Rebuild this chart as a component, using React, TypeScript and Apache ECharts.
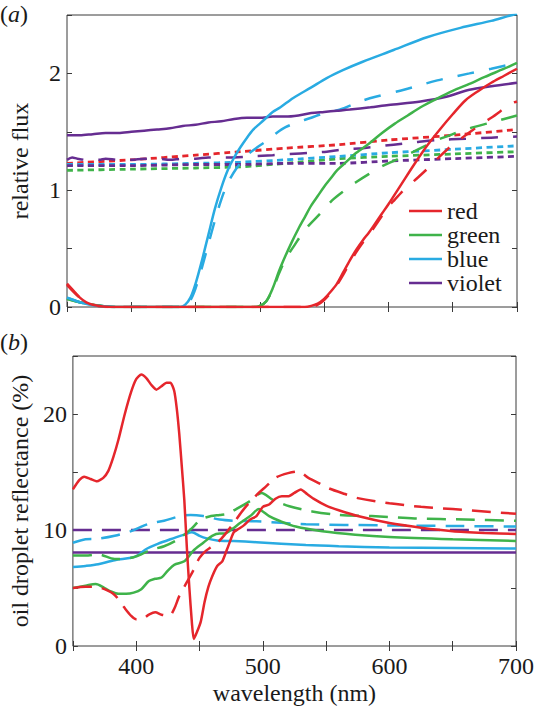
import React, { useEffect, useRef } from "react";
import * as echarts from "echarts";

const RED = "#e5262c";
const GREEN = "#3fb34a";
const BLUE = "#29abe2";
const VIOLET = "#662d91";

type P = [number, number][];

// ---------- panel (a): relative flux ----------
const aRedSolid: P = [[350,0.2],[355,0.14],[360,0.08],[365,0.04],[370,0.02],[378,0.005],[390,0],[450,0],[500,0],[535,0],[540,0.01],[545,0.03],[550,0.07],[555,0.13],[560,0.2],[565,0.3],[570,0.4],[575,0.49],[580,0.57],[585,0.64],[590,0.72],[595,0.8],[600,0.88],[610,1.05],[620,1.22],[630,1.38],[640,1.52],[650,1.65],[660,1.77],[670,1.85],[680,1.92],[690,1.98],[700,2.04]];
const aRedDash: P = [[350,0.19],[360,0.08],[370,0.02],[380,0],[450,0],[540,0],[545,0.02],[550,0.06],[555,0.12],[560,0.19],[565,0.28],[570,0.38],[575,0.47],[580,0.55],[585,0.62],[590,0.7],[595,0.78],[600,0.86],[605,0.92],[610,0.98],[620,1.08],[630,1.18],[640,1.29],[650,1.39],[660,1.47],[670,1.55],[680,1.62],[690,1.7],[695,1.74],[700,1.76]];
const aRedDot: P = [[350,1.23],[400,1.26],[450,1.3],[485,1.33],[520,1.36],[562,1.39],[600,1.43],[650,1.47],[700,1.52]];

const aGreenSolid: P = [[350,0.07],[360,0.04],[370,0.02],[380,0.005],[390,0],[450,0],[495,0],[500,0.01],[505,0.05],[510,0.16],[515,0.31],[520,0.44],[525,0.56],[530,0.67],[535,0.77],[540,0.87],[545,0.95],[550,1.03],[555,1.1],[560,1.17],[567,1.24],[575,1.32],[585,1.4],[595,1.49],[605,1.57],[615,1.64],[625,1.71],[637,1.78],[650,1.85],[663,1.91],[675,1.97],[690,2.04],[700,2.09]];
const aGreenDash: P = [[350,0.07],[360,0.04],[370,0.02],[380,0.005],[390,0],[450,0],[495,0],[500,0.01],[505,0.05],[510,0.15],[515,0.29],[520,0.41],[527,0.53],[535,0.66],[547,0.8],[556,0.91],[565,0.99],[575,1.07],[585,1.14],[596,1.21],[612,1.29],[625,1.36],[638,1.43],[650,1.48],[663,1.53],[680,1.58],[690,1.61],[700,1.64]];
const aGreenDot: P = [[350,1.17],[400,1.18],[450,1.19],[485,1.2],[520,1.23],[562,1.27],[600,1.29],[650,1.31],[700,1.33]];

const aBlueSolid: P = [[350,0.08],[355,0.06],[360,0.04],[370,0.015],[380,0.005],[390,0],[438,0],[442,0.02],[446,0.08],[450,0.2],[455,0.4],[460,0.62],[465,0.84],[470,1.02],[475,1.17],[480,1.28],[485,1.37],[490,1.45],[495,1.52],[500,1.57],[505,1.62],[510,1.67],[516,1.71],[526,1.79],[540,1.88],[552,1.96],[565,2.03],[580,2.1],[604,2.2],[630,2.31],[656,2.39],[680,2.45],[693,2.49],[700,2.51]];
const aBlueDash: P = [[350,0.08],[355,0.06],[360,0.04],[370,0.015],[380,0.005],[390,0],[440,0],[446,0.06],[450,0.16],[455,0.34],[460,0.54],[465,0.74],[470,0.92],[475,1.06],[482,1.19],[490,1.3],[497,1.36],[505,1.42],[513,1.49],[520,1.54],[529,1.58],[540,1.62],[550,1.66],[562,1.69],[578,1.76],[590,1.8],[612,1.86],[638,1.94],[663,2.0],[680,2.04],[700,2.09]];
const aBlueDot: P = [[350,1.22],[400,1.22],[450,1.23],[485,1.24],[520,1.26],[562,1.29],[600,1.32],[650,1.35],[700,1.38]];

const aVioletSolid: P = [[350,1.47],[360,1.47],[370,1.48],[380,1.49],[390,1.49],[400,1.5],[410,1.51],[420,1.52],[430,1.53],[440,1.55],[450,1.56],[460,1.58],[470,1.59],[480,1.61],[490,1.62],[500,1.62],[510,1.63],[520,1.63],[530,1.64],[540,1.66],[550,1.67],[560,1.68],[570,1.69],[586,1.71],[600,1.73],[625,1.76],[645,1.8],[663,1.86],[680,1.89],[700,1.92]];
const aVioletDash: P = [[350,1.26],[354,1.28],[358,1.27],[365,1.26],[375,1.26],[380,1.27],[390,1.26],[400,1.26],[410,1.27],[420,1.27],[430,1.26],[440,1.27],[450,1.27],[460,1.28],[470,1.28],[480,1.28],[494,1.29],[510,1.3],[523,1.31],[540,1.32],[552,1.33],[566,1.35],[580,1.36],[604,1.39],[620,1.41],[638,1.43],[660,1.44],[680,1.45],[700,1.46]];
const aVioletDot: P = [[350,1.21],[400,1.21],[450,1.22],[485,1.22],[520,1.23],[562,1.23],[600,1.25],[650,1.27],[700,1.29]];

// ---------- panel (b): oil droplet reflectance (%) ----------
const bRedSolid: P = [[350,13.5],[355,14.3],[359,14.6],[364,14.4],[369,14.2],[374,14.5],[378,15.1],[382,16.3],[386,17.8],[391,20.0],[396,21.9],[400,23.0],[404,23.4],[408,23.1],[412,22.5],[416,22.1],[420,22.4],[424,22.7],[427,22.7],[430,22.0],[432,20.5],[434,18.3],[436,15.5],[438,12.6],[440,8.5],[442,5.0],[444,2.0],[445.5,0.6],[448,1.2],[451,2.1],[454,3.8],[457,5.1],[460,6.0],[464,6.9],[468,7.3],[472,8.4],[477,9.8],[481,10.1],[485,10.4],[490,10.9],[495,11.2],[500,12.0],[505,12.2],[510,12.7],[515,12.9],[520,12.9],[525,13.2],[530,13.5],[535,13.1],[540,12.7],[550,12.1],[560,11.7],[575,11.2],[600,10.6],[625,10.2],[650,9.9],[675,9.75],[700,9.65]];
const bRedDash: P = [[350,5.0],[360,5.1],[368,5.1],[375,4.9],[383,4.4],[390,3.4],[396,2.6],[400,2.3],[404,2.3],[410,2.7],[415,2.9],[420,2.7],[426,2.6],[430,3.2],[434,4.3],[440,5.5],[445,6.5],[450,7.6],[455,8.2],[460,8.6],[465,9.0],[470,9.6],[477,10.6],[485,11.8],[495,13.0],[503,13.8],[510,14.5],[520,14.9],[528,15.05],[536,14.5],[545,14.0],[552,13.6],[565,13.1],[575,12.75],[600,12.3],[625,12.0],[650,11.8],[675,11.6],[700,11.4]];
const bGreenSolid: P = [[350,5.0],[360,5.2],[368,5.35],[375,5.0],[380,4.7],[386,4.5],[392,4.5],[398,4.6],[404,4.9],[410,5.6],[415,5.8],[420,5.9],[425,6.5],[430,7.0],[438,7.3],[445,8.2],[453,8.9],[460,9.5],[466,9.7],[470,9.7],[476,10.1],[482,10.6],[490,11.2],[497,11.8],[500,11.6],[505,11.2],[513,10.8],[526,10.3],[547,9.9],[573,9.6],[600,9.4],[650,9.2],[700,9.05]];
const bGreenDash: P = [[350,7.8],[360,7.8],[370,7.9],[383,7.5],[396,7.6],[404,7.9],[412,8.3],[422,8.6],[433,9.2],[443,10.05],[451,10.9],[459,11.2],[466,11.3],[472,11.4],[479,11.8],[490,12.5],[499,13.2],[508,12.6],[521,12.05],[539,11.6],[560,11.3],[586,11.2],[620,11.0],[660,10.9],[700,10.8]];
const bBlueSolid: P = [[350,6.8],[360,6.9],[370,7.05],[383,7.4],[396,7.6],[401,7.8],[407,8.3],[417,8.8],[427,9.2],[438,9.6],[444,9.8],[450,9.5],[455,9.3],[464,9.1],[477,9.05],[495,8.95],[534,8.7],[560,8.6],[600,8.5],[650,8.45],[700,8.4]];
const bBlueDash: P = [[350,8.9],[360,9.2],[370,9.25],[383,9.5],[396,9.9],[409,10.5],[422,10.8],[435,11.2],[443,11.3],[453,11.2],[466,10.9],[477,10.8],[495,10.75],[534,10.5],[594,10.4],[650,10.35],[700,10.3]];
const bVioletSolid: P = [[350,8.05],[700,8.05]];
const bVioletDash: P = [[350,10.0],[700,10.0]];

const legendNames = ["red", "green", "blue", "violet"];
const xTicksLabelled = [400, 500, 600, 700];

export default function App() {
  const ref = useRef<HTMLDivElement>(null);
  useEffect(() => {
    const chart = echarts.init(ref.current!, null, { renderer: "svg" });
    const font = "Liberation Serif";
    const ink = "#1a1a1a";
    const frame = "#3a3a3a";
    const dashA = [17, 15];
    const dotA = [6, 4.5];
    const dashB = [19, 10];
    const mk = (name: string, data: P, color: string, type: any, idx: number, smooth = 0.3, width = 2.5) => ({
      type: "line",
      name,
      data,
      xAxisIndex: idx,
      yAxisIndex: idx,
      showSymbol: false,
      symbol: "none",
      smooth,
      silent: true,
      clip: true,
      lineStyle: { color, width, type, cap: "butt" },
      itemStyle: { color },
    });
    const tick = { inside: true, length: 5, lineStyle: { color: frame, width: 1 } };
    const xBase = (grid: number, pos: string, labels: boolean) => ({
      type: "value",
      gridIndex: grid,
      position: pos,
      min: 350,
      max: 700,
      interval: 50,
      axisLine: { show: false },
      axisTick: tick,
      splitLine: { show: false },
      axisLabel: labels
        ? {
            show: true,
            fontSize: 24,
            fontFamily: font,
            color: ink,
            margin: 8,
            formatter: (v: number) => (xTicksLabelled.includes(v) ? String(v) : ""),
          }
        : { show: false },
    });
    const yBase = (grid: number, pos: string, max: number, interval: number, labelEvery: number | null, name?: string) => ({
      type: "value",
      gridIndex: grid,
      position: pos,
      min: 0,
      max,
      interval,
      axisLine: { show: false },
      axisTick: tick,
      splitLine: { show: false },
      axisLabel:
        labelEvery !== null
          ? {
              show: true,
              fontSize: 24,
              fontFamily: font,
              color: ink,
              margin: 6,
              formatter: (v: number) => (Math.abs(v / labelEvery - Math.round(v / labelEvery)) < 1e-6 ? String(v) : ""),
            }
          : { show: false },
      name: name || "",
      nameLocation: "middle",
      nameGap: 35,
      nameTextStyle: { fontSize: 24, fontFamily: font, color: ink },
    });

    const xAxes: any[] = [xBase(0, "bottom", false), xBase(0, "top", false), xBase(1, "bottom", true), xBase(1, "top", false)];
    xAxes[2].name = "wavelength (nm)";
    xAxes[2].nameLocation = "middle";
    xAxes[2].nameGap = 35;
    xAxes[2].nameTextStyle = { fontSize: 24, fontFamily: font, color: ink };

    const option: any = {
      animation: false,
      backgroundColor: "#ffffff",
      textStyle: { fontFamily: font },
      grid: [
        { left: 67, top: 15, width: 450, height: 292, show: true, borderColor: frame, borderWidth: 1, backgroundColor: "transparent" },
        { left: 67, top: 356, width: 451, height: 291, show: true, borderColor: frame, borderWidth: 1, backgroundColor: "transparent" },
      ],
      xAxis: xAxes,
      yAxis: [
        yBase(0, "left", 2.5, 0.5, 1, "relative flux"),
        yBase(0, "right", 2.5, 0.5, null),
        yBase(1, "left", 25, 5, 10, "oil droplet reflectance (%)"),
        yBase(1, "right", 25, 5, null),
      ],
      legend: {
        data: legendNames,
        orient: "vertical",
        left: 409,
        top: 199,
        padding: 0,
        icon: "rect",
        itemWidth: 33,
        itemHeight: 2.5,
        itemGap: 0,
        selectedMode: false,
        textStyle: { fontSize: 24, fontFamily: font, color: ink },
      },
      graphic: [
        {
          type: "text",
          left: 0,
          top: 2,
          style: {
            text: "{n|(}{i|a}{n|)}",
            font: "24px Liberation Serif",
            rich: {
              n: { fontSize: 24, fontFamily: font, fill: ink },
              i: { fontSize: 24, fontFamily: font, fontStyle: "italic", fill: ink },
            },
          },
        },
        {
          type: "text",
          left: 0,
          top: 330,
          style: {
            text: "{n|(}{i|b}{n|)}",
            font: "24px Liberation Serif",
            rich: {
              n: { fontSize: 24, fontFamily: font, fill: ink },
              i: { fontSize: 24, fontFamily: font, fontStyle: "italic", fill: ink },
            },
          },
        },
      ],
      series: [
        // panel a dotted
        mk("a-red-dot", aRedDot, RED, dotA, 0, 0.2, 2.8),
        mk("a-green-dot", aGreenDot, GREEN, dotA, 0, 0.2, 2.8),
        mk("a-blue-dot", aBlueDot, BLUE, dotA, 0, 0.2, 2.8),
        mk("a-violet-dot", aVioletDot, VIOLET, dotA, 0, 0.2, 2.8),
        // panel a dashed
        mk("a-violet-dash", aVioletDash, VIOLET, dashA, 0),
        mk("a-red-dash", aRedDash, RED, dashA, 0),
        mk("a-green-dash", aGreenDash, GREEN, dashA, 0),
        mk("a-blue-dash", aBlueDash, BLUE, dashA, 0),
        // panel a solid
        mk("violet", aVioletSolid, VIOLET, "solid", 0),
        mk("green", aGreenSolid, GREEN, "solid", 0),
        mk("blue", aBlueSolid, BLUE, "solid", 0),
        mk("red", aRedSolid, RED, "solid", 0),
        // panel b
        mk("b-violet-dash", bVioletDash, VIOLET, dashB, 2, 0),
        mk("b-violet", bVioletSolid, VIOLET, "solid", 2, 0),
        mk("b-blue-dash", bBlueDash, BLUE, dashB, 2),
        mk("b-blue", bBlueSolid, BLUE, "solid", 2),
        mk("b-green-dash", bGreenDash, GREEN, dashB, 2),
        mk("b-green", bGreenSolid, GREEN, "solid", 2),
        mk("b-red-dash", bRedDash, RED, dashB, 2),
        mk("b-red", bRedSolid, RED, "solid", 2, 0.2),
      ],
    };
    chart.setOption(option);
    return () => chart.dispose();
  }, []);
  return <div ref={ref} style={{ position: "fixed", left: 0, top: 0, width: 537, height: 706 }} />;
}
